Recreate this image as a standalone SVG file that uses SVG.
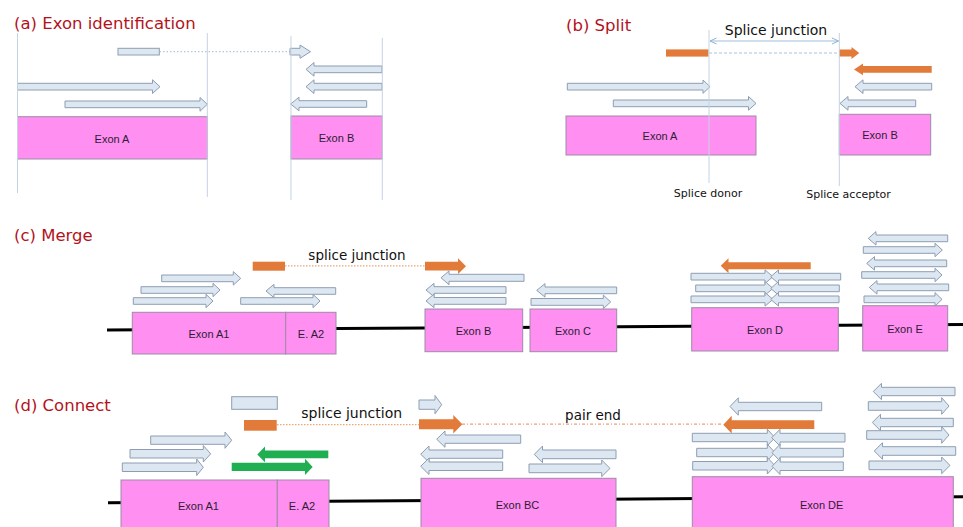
<svg xmlns="http://www.w3.org/2000/svg" width="963" height="527" viewBox="0 0 963 527">
  <style>
    .rd { fill: #dde7f2; stroke: #8d9eb2; stroke-width: 1; }
    .ex { fill: #ff8ff0; stroke: #9c8ca8; stroke-width: 1; }
    .or { fill: #e27a3a; }
    .gr { fill: #1fae52; }
    .guide { stroke: #c3d3e4; stroke-width: 1; fill: none; }
    .bb { stroke: #000; stroke-width: 3; fill: none; }
    .title { font-family: "DejaVu Sans", sans-serif; font-size: 16.5px; fill: #b3121b; }
    .lbl { font-family: "Liberation Sans", Arial, sans-serif; font-size: 11px; fill: #2e1c36; text-anchor: middle; }
    .note { font-family: "DejaVu Sans", sans-serif; fill: #111; text-anchor: middle; }
    .dotb { stroke: #b4c8dc; stroke-width: 1.2; stroke-dasharray: 1.5 2; fill: none; }
    .dashb { stroke: #a9c3dd; stroke-width: 1; stroke-dasharray: 3 2; fill: none; }
    .doto { stroke: #eea678; stroke-width: 1.2; stroke-dasharray: 1.5 1.5; fill: none; }
    .dasho { stroke: #e4a47a; stroke-width: 1.2; stroke-dasharray: 3 2 1 2; fill: none; }
  </style>
  <defs>
    <marker id="chev" viewBox="0 0 8 8" refX="7.5" refY="4" markerWidth="8" markerHeight="8" markerUnits="userSpaceOnUse" orient="auto-start-reverse">
      <path d="M1,1 L7.5,4 L1,7" fill="none" stroke="#8fb2d2" stroke-width="1"/>
    </marker>
  </defs>

  <rect width="963" height="527" fill="#fff"/>

  <!-- titles -->
  <text class="title" x="14" y="28.5">(a) Exon identification</text>
  <text class="title" x="566" y="30.5">(b) Split</text>
  <text class="title" x="14" y="241">(c) Merge</text>
  <text class="title" x="14" y="411">(d) Connect</text>

  <!-- gene backbones -->
  <g id="backbones">
    <line class="bb" x1="107" y1="330" x2="963" y2="324.5"/>
    <line class="bb" x1="108" y1="502.7" x2="963" y2="496.7"/>
  </g>

  <!-- connectors: junction links and pair-end link -->
  <g id="connectors">
    <line class="dotb" x1="159.5" y1="51.6" x2="290" y2="51.6"/>
    <line class="dashb" x1="709" y1="53" x2="839" y2="53"/>
    <line x1="710" y1="41" x2="838.5" y2="41" stroke="#9fbfda" stroke-width="1" marker-start="url(#chev)" marker-end="url(#chev)"/>
    <line class="doto" x1="285" y1="265.8" x2="425" y2="265.8"/>
    <line class="doto" x1="277" y1="424.6" x2="419" y2="424.6"/>
    <line class="dasho" x1="462" y1="424.2" x2="723" y2="424.2"/>
  </g>

  <!-- (a) Exon identification -->
  <g id="a-exon-A">
    <rect class="ex" x="17.5" y="116.7" width="190" height="42.3"/>
    <text class="lbl" x="112" y="142.5">Exon A</text>
  </g>
  <g id="a-exon-B">
    <rect class="ex" x="291" y="116" width="91.3" height="43"/>
    <text class="lbl" x="336.5" y="141.5">Exon B</text>
  </g>
  <g id="a-reads">
    <rect class="rd" x="118" y="48.3" width="41.3" height="6.7"/>
    <polygon class="rd" points="290,48.3 300,48.3 300,45 310.5,51.7 300,58.3 300,55 290,55"/>
    <polygon class="rd" points="306,69.4 314,62.5 314,66 382,66 382,72.7 314,72.7 314,76.2"/>
    <polygon class="rd" points="306,86.7 314,79.8 314,83.3 382,83.3 382,90 314,90 314,93.5"/>
    <polygon class="rd" points="290.7,104 299,97.2 299,100.7 366.7,100.7 366.7,107.3 299,107.3 299,110.8"/>
    <polygon class="rd" points="17.5,83.3 152.5,83.3 152.5,79.8 160,86.7 152.5,93.5 152.5,90 17.5,90"/>
    <polygon class="rd" points="65,101 200,101 200,97.5 207.3,104.3 200,111.2 200,107.7 65,107.7"/>
  </g>
  <g id="a-guides">
    <line class="guide" x1="17.5" y1="33" x2="17.5" y2="193"/>
    <line class="guide" x1="207.3" y1="33" x2="207.3" y2="197"/>
    <line class="guide" x1="291" y1="36" x2="291" y2="200"/>
    <line class="guide" x1="382.3" y1="38" x2="382.3" y2="200"/>
  </g>

  <!-- (b) Split -->
  <g id="b-exon-A">
    <rect class="ex" x="566" y="116" width="190" height="39"/>
    <text class="lbl" x="660" y="139.5">Exon A</text>
  </g>
  <g id="b-exon-B">
    <rect class="ex" x="839.3" y="114.3" width="91.4" height="40.7"/>
    <text class="lbl" x="880" y="138.5">Exon B</text>
  </g>
  <g id="b-reads">
    <rect class="or" x="666" y="49.4" width="42.5" height="7.2"/>
    <polygon class="or" points="839,49.5 851.5,49.5 851.5,47 859.3,53 851.5,59 851.5,56.5 839,56.5"/>
    <polygon class="or" points="854,69.4 863,63.5 863,66 931.7,66 931.7,72.7 863,72.7 863,75.2"/>
    <polygon class="rd" points="567.3,83.3 703,83.3 703,80 710,86.7 703,93.3 703,90 567.3,90"/>
    <polygon class="rd" points="613.3,100 748.5,100 748.5,96.5 756,103.4 748.5,110.2 748.5,106.7 613.3,106.7"/>
    <polygon class="rd" points="855,86.7 863,79.8 863,83.3 931.7,83.3 931.7,90 863,90 863,93.5"/>
    <polygon class="rd" points="840,103.4 848,96.5 848,100 915.7,100 915.7,106.7 848,106.7 848,110.2"/>
  </g>
  <g id="b-guides">
    <line class="guide" x1="709" y1="30" x2="709" y2="183"/>
    <line class="guide" x1="839.3" y1="33" x2="839.3" y2="186"/>
  </g>
  <text class="note" x="776" y="35" font-size="14">Splice junction</text>
  <text class="note" x="708" y="197" font-size="11">Splice donor</text>
  <text class="note" x="848.5" y="198" font-size="11">Splice acceptor</text>

  <!-- (c) Merge -->
  <g id="c-exon-A1">
    <rect class="ex" x="132.3" y="312.3" width="153.4" height="41.7"/>
    <text class="lbl" x="209" y="337.5">Exon A1</text>
  </g>
  <g id="c-exon-A2">
    <rect class="ex" x="285.7" y="312.3" width="50.3" height="41.7"/>
    <text class="lbl" x="311" y="337.5">E. A2</text>
  </g>
  <g id="c-exon-B">
    <rect class="ex" x="425" y="309" width="97.7" height="42.7"/>
    <text class="lbl" x="473.5" y="334.5">Exon B</text>
  </g>
  <g id="c-exon-C">
    <rect class="ex" x="530" y="309" width="86.7" height="42.7"/>
    <text class="lbl" x="573" y="334.5">Exon C</text>
  </g>
  <g id="c-exon-D">
    <rect class="ex" x="691.7" y="307.7" width="146.6" height="43.3"/>
    <text class="lbl" x="765" y="333.5">Exon D</text>
  </g>
  <g id="c-exon-E">
    <rect class="ex" x="862.7" y="305.7" width="85" height="45.3"/>
    <text class="lbl" x="905" y="332.5">Exon E</text>
  </g>
  <g id="c-reads">
    <polygon class="rd" points="161.7,275 233.3,275 233.3,271.6 240.7,278.4 233.3,285.1 233.3,281.7 161.7,281.7"/>
    <polygon class="rd" points="141,286.7 213,286.7 213,283.3 220,290 213,296.7 213,293.3 141,293.3"/>
    <polygon class="rd" points="133.3,297.7 206,297.7 206,294.3 213,301 206,307.7 206,304.3 133.3,304.3"/>
    <polygon class="rd" points="266,291 274,284.3 274,287.7 335.7,287.7 335.7,294.3 274,294.3 274,297.7"/>
    <polygon class="rd" points="240.7,297.7 313,297.7 313,294.3 320,301 313,307.7 313,304.3 240.7,304.3"/>
    <rect class="or" x="252.7" y="261.7" width="32.3" height="9"/>
    <polygon class="or" points="425,261.8 458,261.8 458,258.2 466,266.2 458,274.1 458,270.5 425,270.5"/>
    <polygon class="rd" points="441,277.8 449,270.9 449,274.3 524,274.3 524,281.3 449,281.3 449,284.7"/>
    <polygon class="rd" points="426,290 434,283.3 434,286.7 506,286.7 506,293.3 434,293.3 434,296.7"/>
    <polygon class="rd" points="426,300.9 434,294.1 434,297.5 506,297.5 506,304.3 434,304.3 434,307.7"/>
    <polygon class="rd" points="536.7,290.4 545,283.6 545,287 616.7,287 616.7,293.7 545,293.7 545,297.1"/>
    <polygon class="rd" points="531,298.5 603.3,298.5 603.3,295.1 610.7,301.9 603.3,308.7 603.3,305.3 531,305.3"/>
    <polygon class="or" points="720.7,265.8 728.5,258.3 728.5,262.3 810.7,262.3 810.7,269.3 728.5,269.3 728.5,273.3"/>
    <polygon class="rd" points="691,273.3 765,273.3 765,269.9 773,276.7 765,283.4 765,280 691,280"/>
    <polygon class="rd" points="695.7,285 765,285 765,281.6 773,288.4 765,295.1 765,291.7 695.7,291.7"/>
    <polygon class="rd" points="691,296 765,296 765,292.6 773,299.4 765,306.1 765,302.7 691,302.7"/>
    <polygon class="rd" points="770.7,276.7 778.5,269.9 778.5,273.3 840.7,273.3 840.7,280 778.5,280 778.5,283.4"/>
    <polygon class="rd" points="770.7,288.4 778.5,281.6 778.5,285 839.3,285 839.3,291.7 778.5,291.7 778.5,295.1"/>
    <polygon class="rd" points="770.7,299.4 778.5,292.6 778.5,296 839,296 839,302.7 778.5,302.7 778.5,306.1"/>
    <polygon class="rd" points="868.3,238.4 876,231.6 876,235 947.7,235 947.7,241.7 876,241.7 876,245.1"/>
    <polygon class="rd" points="863.3,246.7 935,246.7 935,243.3 942.3,250 935,256.7 935,253.3 863.3,253.3"/>
    <polygon class="rd" points="866.7,263.4 874.5,256.6 874.5,260 946.7,260 946.7,266.7 874.5,266.7 874.5,270.1"/>
    <polygon class="rd" points="861.7,271.7 935,271.7 935,268.3 942,275 935,281.7 935,278.3 861.7,278.3"/>
    <polygon class="rd" points="869.3,287.4 877,280.6 877,284 948.7,284 948.7,290.7 877,290.7 877,294.1"/>
    <polygon class="rd" points="864,296 935,296 935,292.6 942,299.4 935,306.1 935,302.7 864,302.7"/>
  </g>
  <text class="note" x="357" y="260" font-size="13.5">splice junction</text>

  <!-- (d) Connect -->
  <g id="d-exon-A1">
    <rect class="ex" x="121" y="480" width="156.3" height="60"/>
    <text class="lbl" x="198.5" y="510">Exon A1</text>
  </g>
  <g id="d-exon-A2">
    <rect class="ex" x="277.3" y="480" width="51.7" height="60"/>
    <text class="lbl" x="302" y="510">E. A2</text>
  </g>
  <g id="d-exon-BC">
    <rect class="ex" x="421" y="478.3" width="195" height="60"/>
    <text class="lbl" x="517.5" y="508.5">Exon BC</text>
  </g>
  <g id="d-exon-DE">
    <rect class="ex" x="692.3" y="476.7" width="261" height="60"/>
    <text class="lbl" x="821.7" y="508.5">Exon DE</text>
  </g>
  <g id="d-reads">
    <rect class="rd" x="231.7" y="396.7" width="45.6" height="12.6"/>
    <rect class="or" x="244" y="420" width="32.7" height="10.7"/>
    <polygon class="rd" points="419,400 435,400 435,395.5 441.7,404.7 435,413.8 435,409.3 419,409.3"/>
    <polygon class="or" points="419,419.3 453.3,419.3 453.3,415.1 462.3,424.3 453.3,433.5 453.3,429.3 419,429.3"/>
    <polygon class="or" points="723.3,424.7 731.7,415.8 731.7,420.3 814.3,420.3 814.3,429 731.7,429 731.7,433.5"/>
    <polygon class="rd" points="730,406.5 738.3,397.8 738.3,402.3 821.7,402.3 821.7,410.7 738.3,410.7 738.3,415.2"/>
    <polygon class="rd" points="150.7,436 225,436 225,432 231.7,440.2 225,448.3 225,444.3 150.7,444.3"/>
    <polygon class="rd" points="130,449.5 203.3,449.5 203.3,445.5 210.7,453.8 203.3,462 203.3,458 130,458"/>
    <polygon class="rd" points="122.3,463 196.7,463 196.7,459 203.3,467.3 196.7,475.5 196.7,471.5 122.3,471.5"/>
    <polygon class="gr" points="257.3,454.4 265,446.5 265,450.5 328.3,450.5 328.3,458.3 265,458.3 265,462.3"/>
    <polygon class="gr" points="231.7,462.7 305,462.7 305,458.7 312.7,466.9 305,475 305,471 231.7,471"/>
    <polygon class="rd" points="436.7,439.2 445,431 445,435 520.7,435 520.7,443.3 445,443.3 445,447.3"/>
    <polygon class="rd" points="420.7,454.2 429,446 429,450 502.7,450 502.7,458.3 429,458.3 429,462.3"/>
    <polygon class="rd" points="420.7,466.3 429,458 429,462 502.7,462 502.7,470.5 429,470.5 429,474.5"/>
    <polygon class="rd" points="534.3,454.4 542.5,446 542.5,450 616,450 616,458.7 542.5,458.7 542.5,462.7"/>
    <polygon class="rd" points="529,464 601.7,464 601.7,460 610,468.4 601.7,476.7 601.7,472.7 529,472.7"/>
    <polygon class="rd" points="692.3,433.3 767.3,433.3 767.3,429.3 775,437.5 767.3,445.7 767.3,441.7 692.3,441.7"/>
    <polygon class="rd" points="696.7,448.3 767.3,448.3 767.3,444.3 775,452.5 767.3,460.7 767.3,456.7 696.7,456.7"/>
    <polygon class="rd" points="692.7,461.5 767.3,461.5 767.3,457.5 775,465.8 767.3,474 767.3,470 692.7,470"/>
    <polygon class="rd" points="771.7,437.7 780,429.3 780,433.3 845,433.3 845,442 780,442 780,446"/>
    <polygon class="rd" points="772,452.7 780,444.3 780,448.3 843.3,448.3 843.3,457 780,457 780,461"/>
    <polygon class="rd" points="772,466.3 780,458 780,462 843.3,462 843.3,470.5 780,470.5 780,474.5"/>
    <polygon class="rd" points="873.3,391.5 881.5,383.3 881.5,387.3 955,387.3 955,395.7 881.5,395.7 881.5,399.7"/>
    <polygon class="rd" points="868.3,401.7 941.7,401.7 941.7,397.7 949,406 941.7,414.3 941.7,410.3 868.3,410.3"/>
    <polygon class="rd" points="872.3,422.5 880.5,414.3 880.5,418.3 953.3,418.3 953.3,426.7 880.5,426.7 880.5,430.7"/>
    <polygon class="rd" points="866.7,430.7 941.7,430.7 941.7,426.7 949,435 941.7,443.3 941.7,439.3 866.7,439.3"/>
    <polygon class="rd" points="874.3,451 882.5,442.7 882.5,446.7 955.7,446.7 955.7,455.3 882.5,455.3 882.5,459.3"/>
    <polygon class="rd" points="869,461 941.7,461 941.7,457 950,465.4 941.7,473.7 941.7,469.7 869,469.7"/>
  </g>
  <text class="note" x="351.7" y="418" font-size="14">splice junction</text>
  <text class="note" x="593" y="420" font-size="13.5">pair end</text>
</svg>
